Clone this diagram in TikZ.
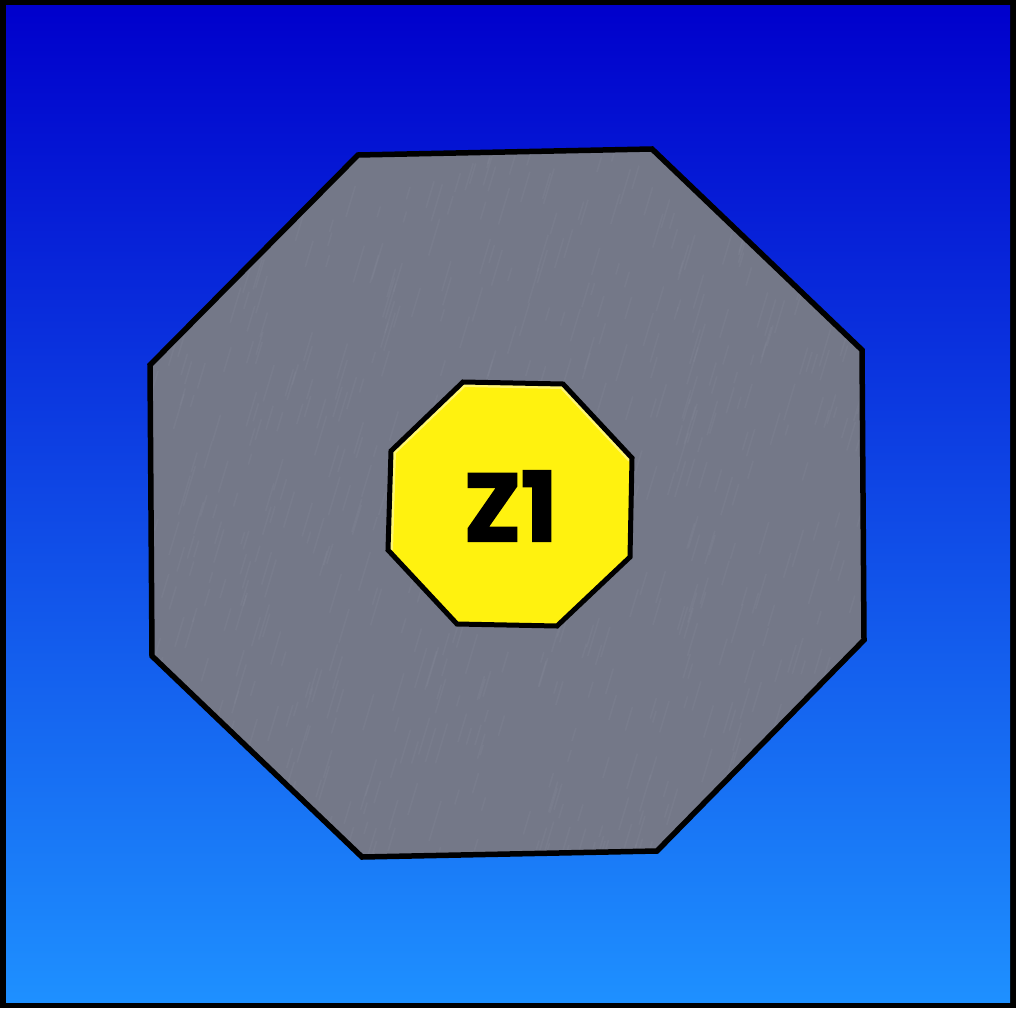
\documentclass[tikz,border=0pt]{standalone}
\usepackage{fontspec}
\newfontfamily\labelfont{Poppins}[BoldFeatures={FakeBold=2.2}]
\definecolor{topblue}{RGB}{0,0,204}
\definecolor{botblue}{RGB}{30,144,255}
\definecolor{plate}{RGB}{116,120,136}
\definecolor{streak}{RGB}{138,142,158}
\definecolor{signyellow}{RGB}{255,242,15}
\tikzset{
  outline/.style={draw=black,line width=5.5pt,line join=miter},
  streakline/.style={draw=streak,line width=1.5pt,opacity=0.22},
  labeltext/.style={font={\labelfont\bfseries\fontsize{96}{96}\selectfont},text=black,inner sep=0pt}
}
\begin{document}
\begin{tikzpicture}[x=1pt,y=-1pt]
\useasboundingbox (0,0) rectangle (1016,1008);
% background frame
\fill[black] (0,0) rectangle (1016,1008);
\shade[top color=topblue,bottom color=botblue] (6,6) rectangle (1010,1002);
% big octagon
\coordinate (b1) at (358,155);
\coordinate (b2) at (652,149);
\coordinate (b3) at (862,350);
\coordinate (b4) at (864,640);
\coordinate (b5) at (657,851);
\coordinate (b6) at (362,857);
\coordinate (b7) at (152,656);
\coordinate (b8) at (150,365);
\fill[plate] (b1)--(b2)--(b3)--(b4)--(b5)--(b6)--(b7)--(b8)--cycle;
\begin{scope}
\clip (b1)--(b2)--(b3)--(b4)--(b5)--(b6)--(b7)--(b8)--cycle;
\pgfmathsetseed{7}
\foreach \i in {1,...,700}{
  \pgfmathsetmacro{\xx}{140+rnd*760}
  \pgfmathsetmacro{\yy}{140+rnd*740}
  \pgfmathsetmacro{\ll}{10+rnd*30}
  \draw[streakline] (\xx,\yy) -- ++(0.3*\ll,-\ll);
}
\end{scope}
\draw[outline] (b1)--(b2)--(b3)--(b4)--(b5)--(b6)--(b7)--(b8)--cycle;
% small octagon
\coordinate (s1) at (463,382);
\coordinate (s2) at (563,384);
\coordinate (s3) at (632,458);
\coordinate (s4) at (630,557);
\coordinate (s5) at (557,626);
\coordinate (s6) at (457,624);
\coordinate (s7) at (388,550);
\coordinate (s8) at (391,451);
\fill[signyellow] (s1)--(s2)--(s3)--(s4)--(s5)--(s6)--(s7)--(s8)--cycle;
\begin{scope}
\clip (s1)--(s2)--(s3)--(s4)--(s5)--(s6)--(s7)--(s8)--cycle;
\draw[white,line width=10pt,opacity=0.4] (s7)--(s8)--(s1)--(s2)--(s3);
\draw[white,line width=5pt,opacity=0.4] (s7)--(s8)--(s1)--(s2)--(s3);
\end{scope}
\draw[outline,line width=5pt] (s1)--(s2)--(s3)--(s4)--(s5)--(s6)--(s7)--(s8)--cycle;
\node[labeltext] (lbl) at (510.5,506) {Z1};
\end{tikzpicture}
\end{document}
